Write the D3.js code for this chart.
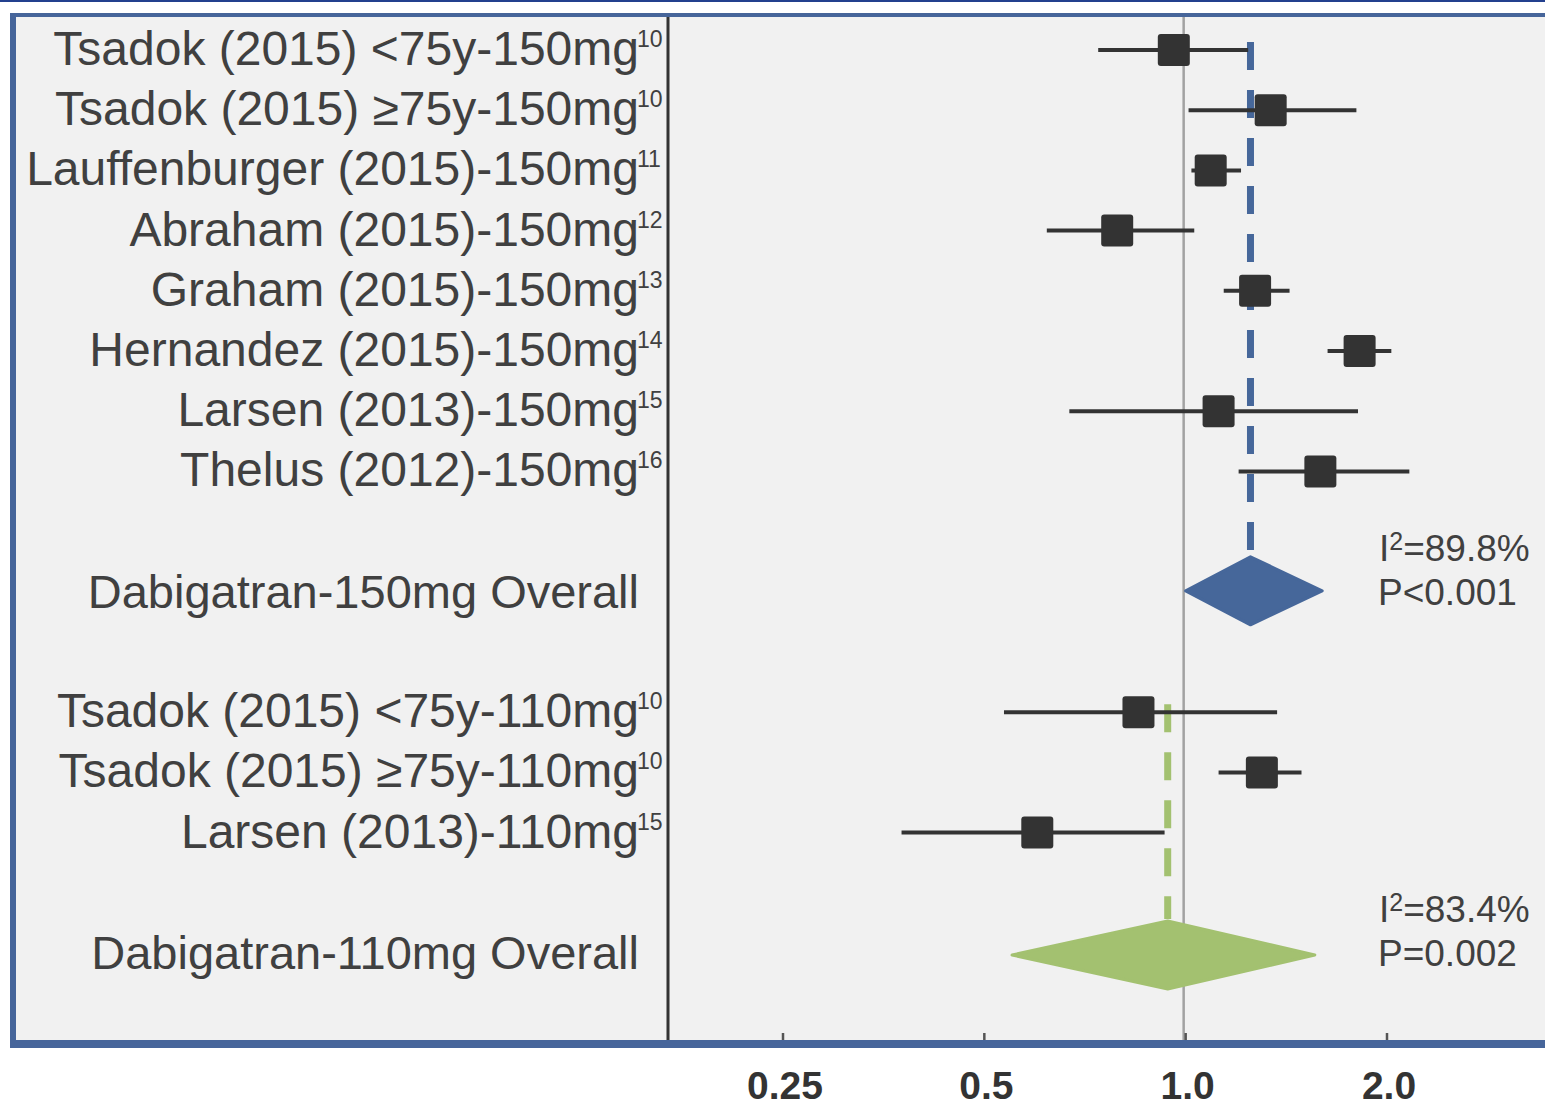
<!DOCTYPE html>
<html lang="en">
  <head>
    <meta charset="UTF-8" />
    <title>Forest plot</title>
    <script src="https://d3js.org/d3.v7.min.js"></script>
    <style>
      body { margin: 0; background: #fff; }
      text { font-family: "Liberation Sans", Arial, sans-serif; fill: #404040; }
    </style>
  </head>
  <body>
    <svg width="1545" height="1107"></svg>
    <script>
      // study rows, 150mg group
      const labels150 = ["Tsadok (2015) <75y-150mg", "Tsadok (2015) \u226575y-150mg", "Lauffenburger (2015)-150mg",
        "Abraham (2015)-150mg", "Graham (2015)-150mg", "Hernandez (2015)-150mg", "Larsen (2013)-150mg", "Thelus (2012)-150mg"];
      const refs150 = ["10", "10", "11", "12", "13", "14", "15", "16"];
      const est150 = [0.96, 1.34, 1.09, 0.79, 1.27, 1.82, 1.12, 1.59];
      const lo150 = [0.74, 1.01, 1.02, 0.62, 1.14, 1.63, 0.67, 1.20];
      const hi150 = [1.24, 1.80, 1.21, 1.03, 1.43, 2.03, 1.81, 2.16];

      // study rows, 110mg group
      const labels110 = ["Tsadok (2015) <75y-110mg", "Tsadok (2015) \u226575y-110mg", "Larsen (2013)-110mg"];
      const refs110 = ["10", "10", "15"];
      const est110 = [0.85, 1.30, 0.60];
      const lo110 = [0.535, 1.12, 0.376];
      const hi110 = [1.37, 1.49, 0.93];

      // pooled results
      const overallLabels = ["Dabigatran-150mg Overall", "Dabigatran-110mg Overall"];
      const overallEst = [1.25, 0.94];
      const overallLo = [1.0, 0.55];
      const overallHi = [1.60, 1.56];
      const overallI2 = ["89.8%", "83.4%"];
      const overallP = ["P<0.001", "P=0.002"];
      const overallColors = ["#46679a", "#a3c170"];

      const ticks = [0.25, 0.5, 1.0, 2.0];
      const tickLabels = ["0.25", "0.5", "1.0", "2.0"];

      const svg = d3.select("svg");

      const x = d3.scaleLog().base(2).domain([0.25, 2]).range([783, 1387]);
      const y = d3.scaleLinear().domain([0, 15]).range([50, 953]);

      // rows: 0-7 studies, 9 overall, 11-13 studies, 15 overall
      const studies = [];
      labels150.forEach((l, i) => studies.push({ label: l, ref: refs150[i], est: est150[i], lo: lo150[i], hi: hi150[i], row: i }));
      labels110.forEach((l, i) => studies.push({ label: l, ref: refs110[i], est: est110[i], lo: lo110[i], hi: hi110[i], row: 11 + i }));
      const overall = overallLabels.map((l, i) => ({
        label: l, est: overallEst[i], lo: overallLo[i], hi: overallHi[i],
        i2: overallI2[i], p: overallP[i], color: overallColors[i],
        row: i === 0 ? 9 : 15, first: i === 0 ? 0 : 11
      }));

      // panel
      svg.append("rect").attr("x", 0).attr("y", 0).attr("width", 1545).attr("height", 1107).attr("fill", "#fff");
      svg.append("line").attr("x1", 0).attr("x2", 1545).attr("y1", 1).attr("y2", 1)
        .attr("stroke", "#23408e").attr("stroke-width", 2);
      svg.append("rect").attr("x", 13).attr("y", 15).attr("width", 1540).attr("height", 1029).attr("fill", "#f1f1f1");
      svg.append("line").attr("x1", 10).attr("x2", 1545).attr("y1", 15).attr("y2", 15)
        .attr("stroke", "#46659a").attr("stroke-width", 4);
      svg.append("line").attr("x1", 13).attr("x2", 13).attr("y1", 13).attr("y2", 1048)
        .attr("stroke", "#46659a").attr("stroke-width", 6);

      // separator and null line
      svg.append("line").attr("x1", 668).attr("x2", 668).attr("y1", 17).attr("y2", 1040)
        .attr("stroke", "#333").attr("stroke-width", 3);
      svg.append("line").attr("x1", x(1) - 2).attr("x2", x(1) - 2).attr("y1", 17).attr("y2", 1040)
        .attr("stroke", "#a2a2a2").attr("stroke-width", 2.5);

      // dashed pooled-estimate lines
      svg.selectAll(".est-line").data(overall).enter().append("line")
        .attr("x1", d => x(d.est)).attr("x2", d => x(d.est))
        .attr("y1", d => y(d.first) - 8).attr("y2", d => y(d.row) - 34)
        .attr("stroke", d => d.color).attr("stroke-width", 7)
        .attr("stroke-dasharray", "28 20");

      // CI lines and squares
      svg.selectAll(".ci").data(studies).enter().append("line")
        .attr("x1", d => x(d.lo)).attr("x2", d => x(d.hi))
        .attr("y1", d => y(d.row)).attr("y2", d => y(d.row))
        .attr("stroke", "#333").attr("stroke-width", 4);
      svg.selectAll(".sq").data(studies).enter().append("rect")
        .attr("x", d => x(d.est) - 16).attr("y", d => y(d.row) - 16)
        .attr("width", 32).attr("height", 32).attr("rx", 3)
        .attr("fill", "#333");

      // diamonds
      svg.selectAll(".dia").data(overall).enter().append("path")
        .attr("d", d => {
          const cy = y(d.row) + (d.row === 9 ? -1 : 2);
          return `M${x(d.lo)},${cy}L${x(d.est)},${cy - 34}L${x(d.hi)},${cy}L${x(d.est)},${cy + 34}Z`;
        })
        .attr("fill", d => d.color).attr("stroke", d => d.color)
        .attr("stroke-width", 3).attr("stroke-linejoin", "round");

      // left labels
      const lab = svg.selectAll(".lab").data(studies).enter().append("g");
      lab.append("text").attr("x", 639).attr("y", d => y(d.row) + 15)
        .attr("text-anchor", "end").attr("font-size", 48).text(d => d.label);
      lab.append("text").attr("x", 637).attr("y", d => y(d.row) - 3)
        .attr("font-size", 23).text(d => d.ref);

      svg.selectAll(".olab").data(overall).enter().append("text")
        .attr("x", 639).attr("y", d => y(d.row) + 16)
        .attr("text-anchor", "end").attr("font-size", 47).text(d => d.label);

      // heterogeneity text
      const het = svg.selectAll(".het").data(overall).enter().append("g");
      const i2 = het.append("text").attr("x", 1379).attr("y", d => y(d.row) - 31).attr("font-size", 37);
      i2.append("tspan").text("I");
      i2.append("tspan").attr("font-size", 25).attr("dy", -11).text("2");
      i2.append("tspan").attr("dy", 11).text(d => "=" + d.i2);
      het.append("text").attr("x", 1378).attr("y", d => y(d.row) + 13)
        .attr("font-size", 37).text(d => d.p);

      // axis
      svg.append("line").attr("x1", 10).attr("x2", 1545).attr("y1", 1044).attr("y2", 1044)
        .attr("stroke", "#46659a").attr("stroke-width", 8);
      svg.selectAll(".tick").data(ticks).enter().append("line")
        .attr("x1", d => x(d)).attr("x2", d => x(d)).attr("y1", 1033).attr("y2", 1040)
        .attr("stroke", "#555").attr("stroke-width", 2.5);
      svg.selectAll(".tlab").data(ticks).enter().append("text")
        .attr("x", d => x(d) + 2).attr("y", 1099).attr("text-anchor", "middle")
        .attr("font-size", 39).attr("font-weight", "bold").style("fill", "#333")
        .text((d, i) => tickLabels[i]);
    </script>
  </body>
</html>
